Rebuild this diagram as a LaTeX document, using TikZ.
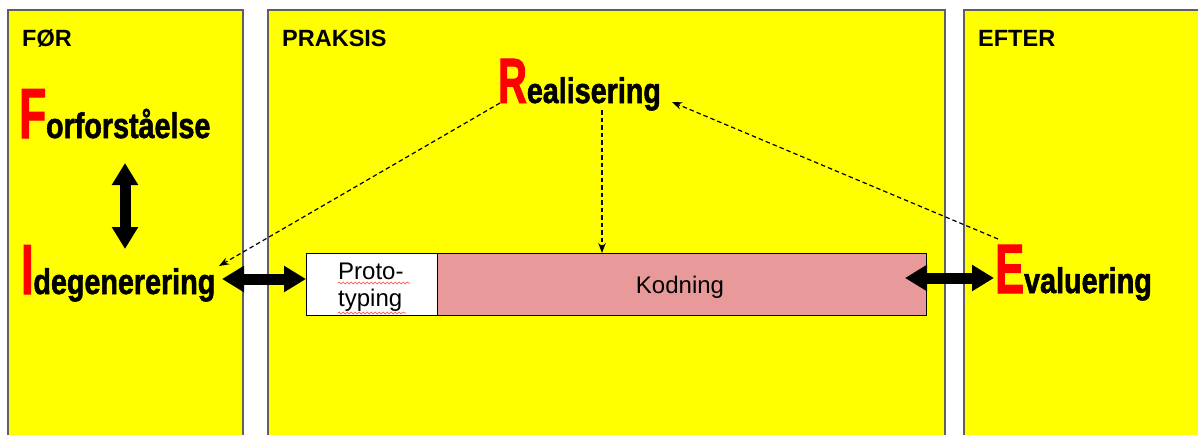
\documentclass[tikz,border=0pt]{standalone}
\usepackage{fontspec}
\setmainfont{Liberation Sans}
\newfontfamily\wordfont{Liberation Sans Bold}[FakeStretch=0.87,FakeBold=1.6]
\newfontfamily\initfont{Liberation Sans Bold}[FakeStretch=0.62,FakeBold=1.5]
\usetikzlibrary{arrows.meta,decorations.pathmorphing}
\definecolor{panelyellow}{RGB}{255,255,0}
\definecolor{panelborder}{RGB}{96,96,96}
\definecolor{kodpink}{RGB}{232,154,154}
\newcommand\biginit[2]{{\initfont\fontsize{#1}{#1}\selectfont\color{red}#2}}
\newcommand\wordrest[1]{{\wordfont\fontsize{33}{36}\selectfont\scalebox{1}[1.08]{#1}}}
\tikzset{
  panel/.style={fill=panelyellow, draw=panelborder, line width=1.5pt},
  heading/.style={font=\bfseries\fontsize{23.5}{26}\selectfont, anchor=base west, inner sep=0pt},
  bigword/.style={anchor=base west, inner sep=0pt},
  fat/.style={line width=11pt, {Triangle[width=25pt,length=22pt]}-{Triangle[width=25pt,length=22pt]}},
  dashconn/.style={line width=1.2pt, dash pattern=on 4.5pt off 3pt, -{Stealth[length=10pt,width=7.5pt]}},
  boxtext/.style={font=\fontsize{24}{27}\selectfont, inner sep=0pt},
  spell/.style={draw=red!75, line width=0.6pt, decorate, decoration={snake, segment length=4pt, amplitude=0.9pt}}
}
\begin{document}
\begin{tikzpicture}[x=1pt,y=-1pt]
\useasboundingbox (0,0) rectangle (1198,434);
\clip (0,0) rectangle (1198,434);
\fill[white] (0,0) rectangle (1198,434);
% panels
\draw[panel] (8,10) rectangle (243,450);
\draw[panel] (268,10) rectangle (945,450);
\draw[panel] (964,10) rectangle (1215,450);
% headings
\node[heading] (hfor) at (22,46) {FØR};
\node[heading] (hpraksis) at (282,46) {PRAKSIS};
\node[heading] (hefter) at (978,46) {EFTER};
% big words
\node[bigword] (F) at (19,138) {\biginit{71}{F}\wordrest{orforståelse}};
\node[bigword] (I) at (21,294) {\biginit{71}{I}\wordrest{degenerering}};
\node[bigword] (R) at (498,103) {\biginit{64}{R}\wordrest{ealisering}};
\node[bigword] (E) at (995,293) {\biginit{70}{E}\wordrest{valuering}};
% boxes
\node[draw=black, fill=white, line width=0.8pt, minimum width=131pt, minimum height=62pt, inner sep=0pt, anchor=north west] (proto) at (306,253) {};
\node[draw=black, fill=kodpink, line width=0.8pt, minimum width=489pt, minimum height=62pt, inner sep=0pt, anchor=north west] (kod) at (437,253) {};
\node[boxtext, anchor=base west] (prototxt) at (338,279) {Proto-};
\node[boxtext, anchor=base west] (typingtxt) at (338,306) {typing};
\node[boxtext, anchor=base] (kodtxt) at (680,293) {Kodning};
\draw[spell] (prototxt.base west) ++(0,4) -- ++(72,0);
\draw[spell] (typingtxt.base west) ++(0,7) -- ++(68,0);
% fat double arrows
\coordinate (vtop) at (125,163);
\coordinate (vbot) at (125,249);
\draw[fat] (vtop) -- (vbot);
\coordinate (hl) at (222,279);
\draw[fat] (hl) -- (proto.west |- hl);
\coordinate (hr) at (905,278);
\coordinate (hre) at (994,278);
\draw[fat] (hr) -- (hre);
% dashed connectors
\coordinate (rstart) at (500,103);
\coordinate (iend) at (219,266);
\draw[dashconn] (rstart) -- (iend);
\coordinate (rdown) at (602,110);
\draw[dashconn] (rdown) -- (kod.north -| rdown);
\coordinate (estart) at (998,239);
\coordinate (rend) at (672,102);
\draw[dashconn] (estart) -- (rend);
\end{tikzpicture}
\end{document}
